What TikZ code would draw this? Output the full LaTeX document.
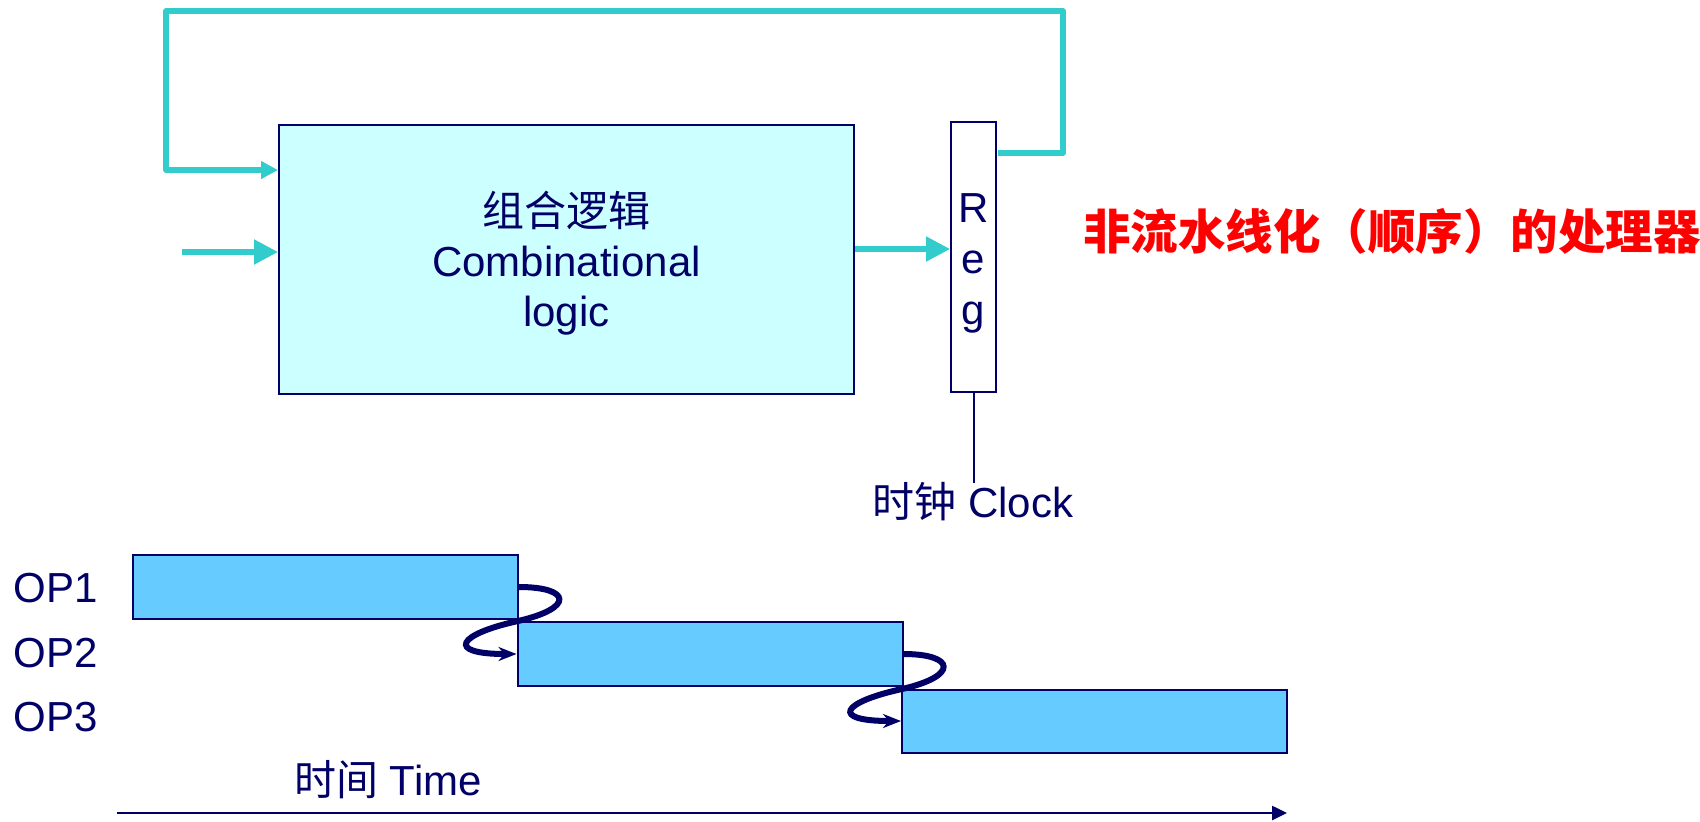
\documentclass[tikz,border=0pt]{standalone}
\usepackage{fontspec}
\setmainfont{Liberation Sans}
\newfontfamily\cjk{Noto Sans CJK SC}
\usetikzlibrary{arrows.meta}
\definecolor{navy}{HTML}{000066}
\definecolor{wire}{HTML}{33CCCC}
\definecolor{boxfill}{HTML}{CCFFFF}
\definecolor{barfill}{HTML}{66CCFF}
\definecolor{titlered}{HTML}{FF0000}
\begin{document}
\begin{tikzpicture}[x=0.5pt,y=-0.5pt,
  txt/.style={text=navy,inner sep=0pt,font=\fontsize{21pt}{25pt}\selectfont},
  combbox/.style={draw=navy,line width=1pt,fill=boxfill,minimum width=287.5pt,minimum height=134.5pt,inner sep=0pt},
  regbox/.style={draw=navy,line width=1pt,fill=white,minimum width=22.5pt,minimum height=135pt,inner sep=0pt},
  bar/.style={draw=navy,line width=1pt,fill=barfill,minimum width=192.5pt,minimum height=32pt,inner sep=0pt},
  wirebig/.style={draw=wire,line width=2.6pt,-{Triangle[length=12pt,width=12pt]}},
  wiresmall/.style={draw=wire,line width=2.6pt,line join=round,-{Triangle[length=8.5pt,width=8.5pt]}},
  scurve/.style={draw=navy,line width=3pt,-{Stealth[length=9pt,width=7pt]}},
  axisline/.style={draw=navy,line width=1.3pt,-{Triangle[length=7.5pt,width=7pt]}},
  clockline/.style={draw=navy,line width=1pt}]
\useasboundingbox (0,0) rectangle (1700,821);

% blocks
\node[combbox] (comb) at (566.5,259.5) {};
\node[txt,align=center,yshift=-1.75pt] (combtext) at (comb.center) {{\cjk 组合逻辑}\\Combinational\\logic};
\node[regbox] (reg) at (973.5,257) {};
\node[txt,anchor=base] (regR) at (973.5,222) {R};
\node[txt,anchor=base] (regE) at (973.5,273) {e};
\node[txt,anchor=base] (regG) at (973.5,324) {g};

% wires
\coordinate (inp) at (182,252);
\draw[wirebig] (inp) -- (inp -| comb.west);
\coordinate (outp) at (854,249);
\draw[wirebig] (outp -| comb.east) -- (outp -| reg.west);
\coordinate (fbA) at (998,153);
\coordinate (fbB) at (1063,11);
\coordinate (fbC) at (166,170);
\draw[wiresmall] (fbA) -| (fbB) -| (fbC) -- (fbC -| comb.west);

% clock
\coordinate (clk) at (973.5,483);
\draw[clockline] (reg.south) -- (clk);
\node[txt,anchor=base] (clklabel) at (973,517) {{\cjk 时钟} Clock};

% title
\node[anchor=base west,inner sep=0pt,text=titlered,font=\fontsize{23.75pt}{28pt}\selectfont] (title) at (1083,249) {\cjk\bfseries 非流水线化（顺序）的处理器};

% timeline bars
\node[bar] (op1) at (325.5,587) {};
\node[bar] (op2) at (710,654) {};
\node[bar,minimum height=31.5pt] (op3) at (1094.5,721) {};
\node[txt,anchor=base west] (l1) at (13,602) {OP1};
\node[txt,anchor=base west] (l2) at (13,667) {OP2};
\node[txt,anchor=base west] (l3) at (13,731) {OP3};

\coordinate (x12) at (518,621);
\coordinate (x23) at (902,689);
\draw[scurve] (op1.east) .. controls +(52,0) and +(57,-13) .. (x12) .. controls +(-60,13) and +(-72,0) .. (op2.west);
\draw[scurve] (op2.east) .. controls +(52,0) and +(57,-13) .. (x23) .. controls +(-60,13) and +(-72,0) .. (op3.west);

% time axis
\coordinate (t0) at (117,813);
\coordinate (t1) at (1287,813);
\draw[axisline] (t0) -- (t1);
\node[txt,anchor=base] (timelabel) at (388,795) {{\cjk 时间} Time};
\end{tikzpicture}
\end{document}
